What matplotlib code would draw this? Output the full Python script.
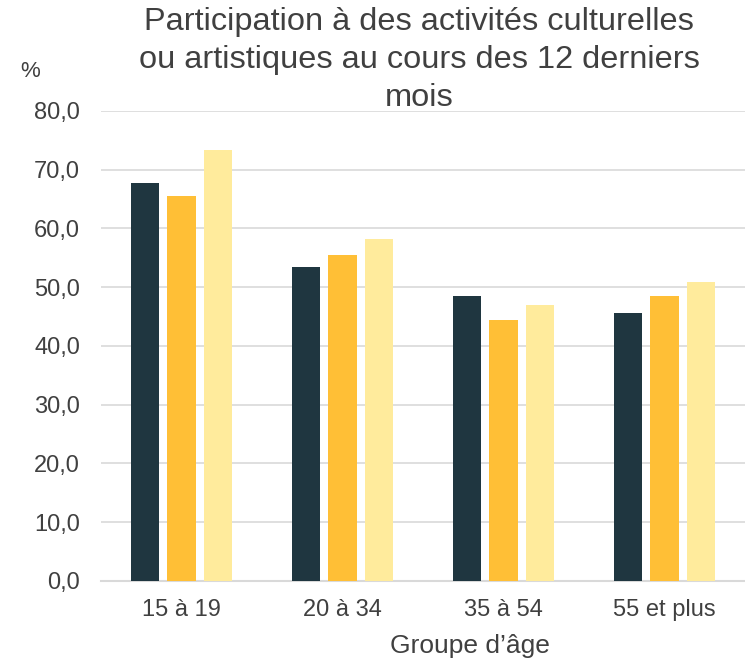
import numpy as np
import matplotlib.pyplot as plt

plt.rcParams['font.family'] = ['Liberation Sans', 'DejaVu Sans']

# Data
groups = ['15 à 19', '20 à 34', '35 à 54', '55 et plus']
serie_1 = [67.7, 53.4, 48.5, 45.6]
serie_2 = [65.5, 55.5, 44.4, 48.5]
serie_3 = [73.4, 58.2, 47.0, 50.9]
couleurs = ['#1f3640', '#ffbf36', '#ffeb9c']

fig = plt.figure(figsize=(7.45, 6.64), dpi=100)
ax = fig.add_axes([0.1356, 0.125, 0.8644, 0.708])

x = np.arange(len(groups))
w = 0.175
step = 0.225
for k, (vals, c) in enumerate(zip([serie_1, serie_2, serie_3], couleurs)):
    ax.bar(x + (k - 1) * step, vals, width=w, color=c, zorder=3)

ax.set_xlim(-0.5, len(groups) - 0.5)
ax.set_ylim(0, 80)
ax.set_yticks(np.arange(0, 81, 10))
ax.set_yticklabels([f"{v:.1f}".replace('.', ',') for v in np.arange(0, 81, 10)])
ax.set_xticks(x)
ax.set_xticklabels(groups)
ax.tick_params(axis='both', length=0, labelsize=17, colors='#404040')
ax.tick_params(axis='x', pad=13)
ax.tick_params(axis='y', pad=15)

ax.grid(axis='y', color='#d9d9d9', linewidth=1.2, zorder=0)
for s in ['top', 'right', 'left']:
    ax.spines[s].set_visible(False)
ax.spines['bottom'].set_color('#d9d9d9')
ax.spines['bottom'].set_linewidth(1.5)

ax.set_xlabel("Groupe d’âge", fontsize=19, color='#404040')
ax.xaxis.set_label_coords(0.573, -0.113)

fig.text(0.04, 0.892, '%', fontsize=16, color='#404040', ha='center', va='center')
fig.text(0.5626, 0.99, "Participation à des activités culturelles\nou artistiques au cours des 12 derniers\nmois",
         fontsize=23.4, color='#404040', ha='center', va='top', linespacing=1.35)

plt.savefig('out.png', dpi=100)
